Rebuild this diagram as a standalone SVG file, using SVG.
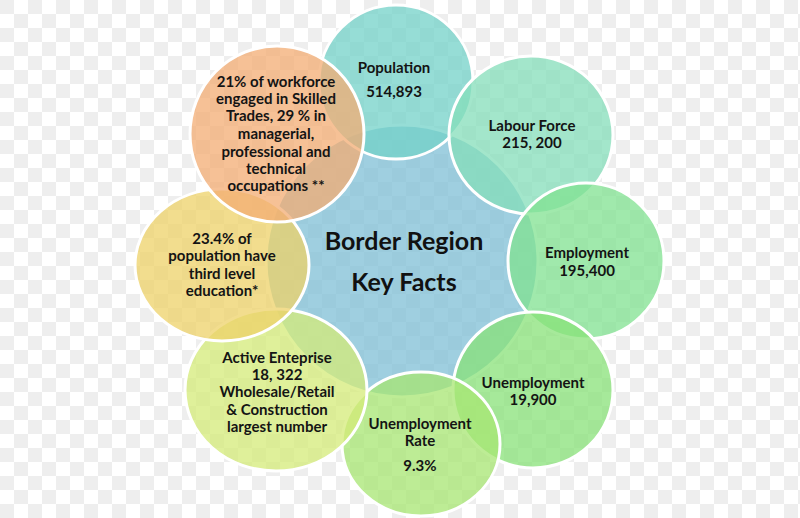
<svg xmlns="http://www.w3.org/2000/svg" width="800" height="518" viewBox="0 0 800 518">
<defs>
<pattern id="checker" width="28" height="28" patternUnits="userSpaceOnUse">
<rect width="28" height="28" fill="#ffffff"/>
<rect x="0" y="0" width="14" height="14" fill="#eeeeee"/>
<rect x="14" y="14" width="14" height="14" fill="#eeeeee"/>
</pattern>
<style>
.c{stroke:#ffffff;stroke-width:3;fill-opacity:0.75}
.t{font-family:Lato,"Liberation Sans",sans-serif;font-weight:bold;font-size:15px;fill:#141414;text-anchor:middle}
.h{font-family:Lato,"Liberation Sans",sans-serif;font-weight:bold;font-size:25px;fill:#111111;text-anchor:middle}
</style>
</defs>
<rect width="800" height="518" fill="url(#checker)"/>

<g id="center">
<circle class="c" cx="402" cy="261" r="136" fill="#7fbfd6"/>
</g>
<g id="population">
<ellipse class="c" cx="396" cy="82" rx="77" ry="77" fill="#73d2c8"/>
</g>
<g id="labour-force">
<ellipse class="c" cx="531" cy="135" rx="82" ry="79" fill="#84deba"/>
</g>
<g id="employment">
<ellipse class="c" cx="586" cy="261" rx="78" ry="78" fill="#80e290"/>
</g>
<g id="unemployment">
<ellipse class="c" cx="533" cy="390" rx="80" ry="78" fill="#88e278"/>
</g>
<g id="unemployment-rate">
<ellipse class="c" cx="421" cy="444" rx="79" ry="72" fill="#a7e672"/>
</g>
<g id="active-enterprise">
<ellipse class="c" cx="276" cy="390" rx="91" ry="81" fill="#d4eb78"/>
</g>
<g id="education">
<ellipse class="c" cx="222" cy="265" rx="87" ry="76" fill="#eed268"/>
</g>
<g id="skilled-trades">
<ellipse class="c" cx="277" cy="134" rx="87" ry="88" fill="#f3ac73"/>
</g>

<g id="labels">
<text class="h" x="404" y="250">Border Region</text>
<text class="h" x="404" y="291">Key Facts</text>

<text class="t" x="394" y="73">Population</text>
<text class="t" x="394" y="97">514,893</text>

<text class="t" x="532" y="131">Labour Force</text>
<text class="t" x="532" y="148">215, 200</text>

<text class="t" x="587" y="258">Employment</text>
<text class="t" x="587" y="276">195,400</text>

<text class="t" x="533" y="388">Unemployment</text>
<text class="t" x="533" y="405">19,900</text>

<text class="t" x="420" y="429">Unemployment</text>
<text class="t" x="420" y="446">Rate</text>
<text class="t" x="420" y="471">9.3%</text>

<text class="t" x="277" y="363">Active Enteprise</text>
<text class="t" x="277" y="380">18, 322</text>
<text class="t" x="277" y="397">Wholesale/Retail</text>
<text class="t" x="277" y="415">&amp; Construction</text>
<text class="t" x="277" y="432">largest number</text>

<text class="t" x="222" y="244">23.4% of</text>
<text class="t" x="222" y="261">population have</text>
<text class="t" x="222" y="279">third level</text>
<text class="t" x="222" y="296">education*</text>

<text class="t" x="276" y="87">21% of workforce</text>
<text class="t" x="276" y="104">engaged in Skilled</text>
<text class="t" x="276" y="121">Trades, 29 % in</text>
<text class="t" x="276" y="139">managerial,</text>
<text class="t" x="276" y="157">professional and</text>
<text class="t" x="276" y="174">technical</text>
<text class="t" x="276" y="191">occupations  **</text>
</g>
</svg>
